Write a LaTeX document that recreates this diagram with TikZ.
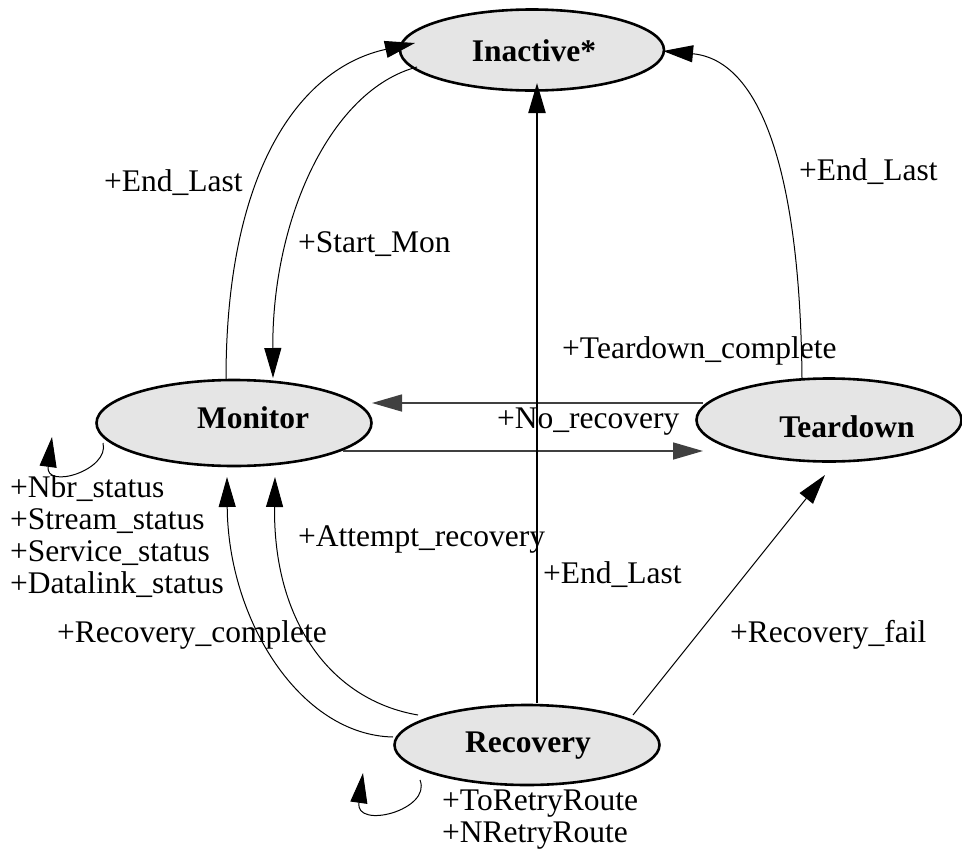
\documentclass[tikz,border=0pt]{standalone}
\usepackage{fontspec}
\setmainfont{Liberation Serif}
\usetikzlibrary{arrows.meta,calc,shapes.geometric}

\definecolor{stategray}{HTML}{E5E5E5}
\definecolor{linegray}{HTML}{404040}

\tikzset{
  state/.style={ellipse, draw=black, line width=2.6pt, fill=stategray,
    inner sep=0pt, outer sep=0pt},
  statetext/.style={anchor=base, inner sep=0pt,
    font=\bfseries\fontsize{31.5}{34}\selectfont},
  edgetext/.style={anchor=base west, inner sep=0pt, align=left,
    font=\fontsize{31.5}{31.7}\selectfont},
  tip/.style={-{Triangle[length=30pt,width=17pt]}},
  trans/.style={draw=black, line width=1pt, tip},
  hline/.style={draw=linegray, line width=1.6pt, tip},
  thickline/.style={draw=black, line width=2.2pt, tip},
}

\begin{document}
\begin{tikzpicture}[x=1pt, y=-1pt]
\useasboundingbox (0,0) rectangle (962,849);

% states
\node[state, minimum width=264pt, minimum height=81pt] (ina) at (532,50) {};
\node[state, minimum width=275pt, minimum height=86pt] (mon) at (234,423) {};
\node[state, minimum width=265pt, minimum height=83pt] (ter) at (829,420) {};
\node[state, minimum width=265pt, minimum height=80pt] (rec) at (527,745) {};

\node[statetext] (inat) at (534,61) {Inactive*};
\node[statetext] (mont) at (253,428) {Monitor};
\node[statetext] (tert) at (847,437) {Teardown};
\node[statetext] (rect) at (528,752) {Recovery};

% Monitor <-> Inactive
\draw[trans] ($(mon)+(-8,-44)$) .. controls (226,170) and (300,68) .. ($(ina)+(-117,-7)$);
\draw[trans] ($(ina)+(-115,17)$) .. controls (330,90) and (272,220) .. ($(mon)+(39,-45)$);

% Teardown -> Inactive
\draw[trans] ($(ter)+(-27,-42)$) .. controls (800,170) and (760,60) .. ($(ina)+(131,1)$);

% Monitor <-> Teardown
\draw[hline] ($(ter)+(-126,-17)$) -- ($(mon)+(138,-20)$);
\draw[hline] ($(mon)+(109,28)$) -- ($(ter)+(-126,31)$);

% Recovery -> Monitor
\draw[trans] ($(rec)+(-134,-8)$) .. controls (300,735) and (228,620) .. ($(mon)+(-7,54)$);
\draw[trans] ($(rec)+(-109,-30)$) .. controls (330,700) and (273,620) .. ($(mon)+(41,54)$);

% Recovery -> Teardown
\draw[trans] ($(rec)+(106,-30)$) -- ($(ter)+(-4,55)$);

% Recovery -> Inactive
\draw[thickline] ($(rec)+(10,-42)$) -- ($(ina)+(5,33)$);

% self loops
\draw[trans] ($(mon)+(-131,20)$) .. controls (110,470) and (45,490) .. ($(mon)+(-182,14)$);
\draw[trans] ($(rec)+(-107,35)$) .. controls (432,810) and (355,830) .. ($(rec)+(-164,28)$);

% transition labels (multi-line ones are placed by their last baseline)
\node[edgetext] (l1) at (104,191) {+End\_Last};
\node[edgetext] (l2) at (298,252) {+Start\_Mon};
\node[edgetext] (l3) at (799,180) {+End\_Last};
\node[edgetext] (l4) at (562,358) {+Teardown\_complete};
\node[edgetext] (l5) at (497,428) {+No\_recovery};
\node[edgetext] (l6) at (10,593) {+Nbr\_status\\+Stream\_status\\+Service\_status\\+Datalink\_status};
\node[edgetext] (l7) at (298,546) {+Attempt\_recovery};
\node[edgetext] (l8) at (543,583) {+End\_Last};
\node[edgetext] (l9) at (57,642) {+Recovery\_complete};
\node[edgetext] (l10) at (730,642) {+Recovery\_fail};
\node[edgetext] (l11) at (442,842) {+ToRetryRoute\\+NRetryRoute};
\end{tikzpicture}
\end{document}
